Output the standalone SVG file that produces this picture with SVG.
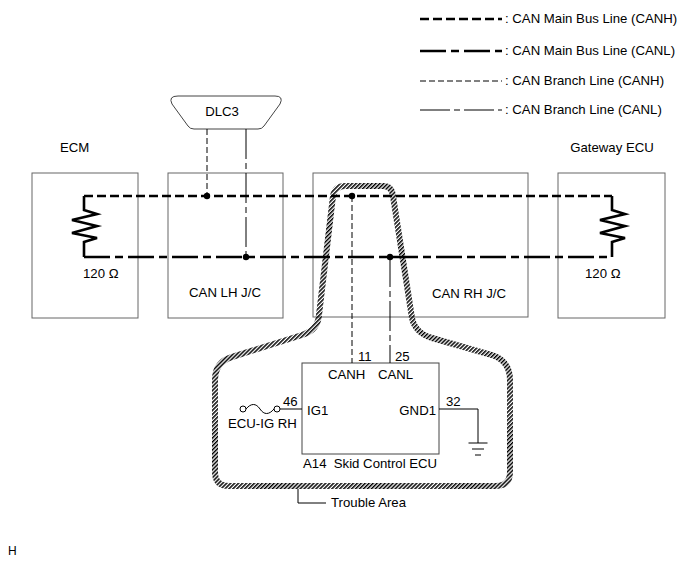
<svg xmlns="http://www.w3.org/2000/svg" width="691" height="564" viewBox="0 0 691 564">
<style>
text{font-family:"Liberation Sans",Arial,sans-serif;font-size:13.2px;fill:#000;white-space:pre}
.box{fill:none;stroke:#666;stroke-width:1}
.mainH{fill:none;stroke:#000;stroke-width:2.6;stroke-dasharray:9 4}
.mainL{fill:none;stroke:#000;stroke-width:2.6;stroke-dasharray:26 5 8 5}
.brH{fill:none;stroke:#000;stroke-width:1;stroke-dasharray:6 3}
.brL{fill:none;stroke:#000;stroke-width:1;stroke-dasharray:30 4 6 4}
.wire{fill:none;stroke:#000;stroke-width:1}
.res{fill:none;stroke:#000;stroke-width:2.6;stroke-linejoin:miter}
.dot{fill:#000}
</style>
<defs>
<pattern id="hatch" patternUnits="userSpaceOnUse" width="2.8" height="4" patternTransform="rotate(45)">
<rect x="0" y="0" width="1.5" height="4" fill="#000"/>
</pattern>
</defs>
<g id="legend">
<line class="mainH" x1="420" y1="19" x2="502" y2="19"/>
<text x="505" y="23">: CAN Main Bus Line (CANH)</text>
<line class="mainL" x1="420" y1="51" x2="502" y2="51"/>
<text x="505" y="55">: CAN Main Bus Line (CANL)</text>
<line class="brH" x1="420" y1="81" x2="502" y2="81"/>
<text x="505" y="85">: CAN Branch Line (CANH)</text>
<line class="brL" x1="420" y1="110" x2="502" y2="110"/>
<text x="505" y="114">: CAN Branch Line (CANL)</text>
</g>
<g id="ecm">
<rect class="box" x="32" y="173" width="106" height="145"/>
<text x="60" y="152">ECM</text>
<path class="res" d="M84,196 V210 L97,214 L72,220 L97,226 L72,233 L97,238 L84,242 V257"/>
<text x="83" y="278">120 Ω</text>
</g>
<g id="can-lh-jc">
<rect class="box" x="168" y="173" width="115" height="145"/>
<text x="225" y="297" text-anchor="middle">CAN LH J/C</text>
</g>
<g id="dlc3">
<path d="M178,96 L275,96 Q284,96 280,104 L264,126 Q262,129 258,129 L194,129 Q190,129 188,126 L172,104 Q168,96 178,96 Z" fill="#fff" stroke="#444" stroke-width="1"/>
<text x="222" y="116" text-anchor="middle">DLC3</text>
</g>
<g id="can-rh-jc">
<rect class="box" x="313" y="173" width="215" height="144"/>
<text x="469" y="298" text-anchor="middle">CAN RH J/C</text>
</g>
<g id="gateway-ecu">
<rect class="box" x="558" y="173" width="107" height="145"/>
<text x="612" y="152" text-anchor="middle">Gateway ECU</text>
<path class="res" d="M612,196 V210 L625,214 L600,220 L625,226 L600,233 L625,238 L612,242 V257"/>
<text x="585" y="278">120 Ω</text>
</g>
<g id="skid-control-ecu">
<rect class="box" x="302" y="363" width="137" height="91" style="stroke:#444"/>
<text x="358" y="361">11</text>
<text x="395" y="361">25</text>
<text x="328" y="379">CANH</text>
<text x="378" y="379">CANL</text>
<text x="307" y="415">IG1</text>
<text x="436" y="415" text-anchor="end">GND1</text>
<text x="283" y="406">46</text>
<text x="446" y="406">32</text>
<text x="303" y="468">A14  Skid Control ECU</text>
</g>
<g id="fuse-ecu-ig-rh">
<circle cx="243" cy="409" r="3" fill="#fff" stroke="#000" stroke-width="1"/>
<circle cx="277" cy="409" r="3" fill="#fff" stroke="#000" stroke-width="1"/>
<path class="wire" d="M246,409 C251,403 256,403 260,409 C264,415 269,415 274,409"/>
<line class="wire" x1="280" y1="409" x2="302" y2="409"/>
<text x="228" y="428">ECU-IG RH</text>
</g>
<g id="ground">
<path class="wire" d="M439,409 H478 V443"/>
<line class="wire" x1="468.5" y1="443" x2="487.5" y2="443"/>
<line class="wire" x1="472" y1="449" x2="484" y2="449"/>
<line class="wire" x1="475" y1="455" x2="481" y2="455"/>
</g>
<g id="connectors">
<line class="mainH" x1="84" y1="196" x2="612" y2="196"/>
<line class="mainL" x1="84" y1="257" x2="612" y2="257"/>
<line class="brH" x1="207" y1="129" x2="207" y2="196"/>
<line class="brL" x1="246" y1="129" x2="246" y2="257"/>
<line class="brH" x1="352" y1="196" x2="352" y2="363"/>
<line class="brL" x1="390" y1="257" x2="390" y2="363"/>
<circle class="dot" cx="207" cy="196" r="3.2"/>
<circle class="dot" cx="246" cy="257" r="3.2"/>
<circle class="dot" cx="352" cy="196" r="3.2"/>
<circle class="dot" cx="390" cy="257" r="3.2"/>
</g>
<g id="trouble-area">
<path d="M345,186 L383,186 Q392,186 393,196 L412,318 Q415,333 432,338 L492,355 Q510,361 510,380 L510,472 Q510,486 496,486 L229,486 Q215,486 215,472 L215,380 Q215,362 232,357 L302,335 Q318,330 319,315 L333,196 Q335,186 345,186 Z" fill="none" stroke="url(#hatch)" stroke-width="6"/>
<path class="wire" d="M298,489 V503 H326"/>
<text x="331" y="507">Trouble Area</text>
</g>
<text x="8" y="555" style="font-size:12px">H</text>
</svg>
